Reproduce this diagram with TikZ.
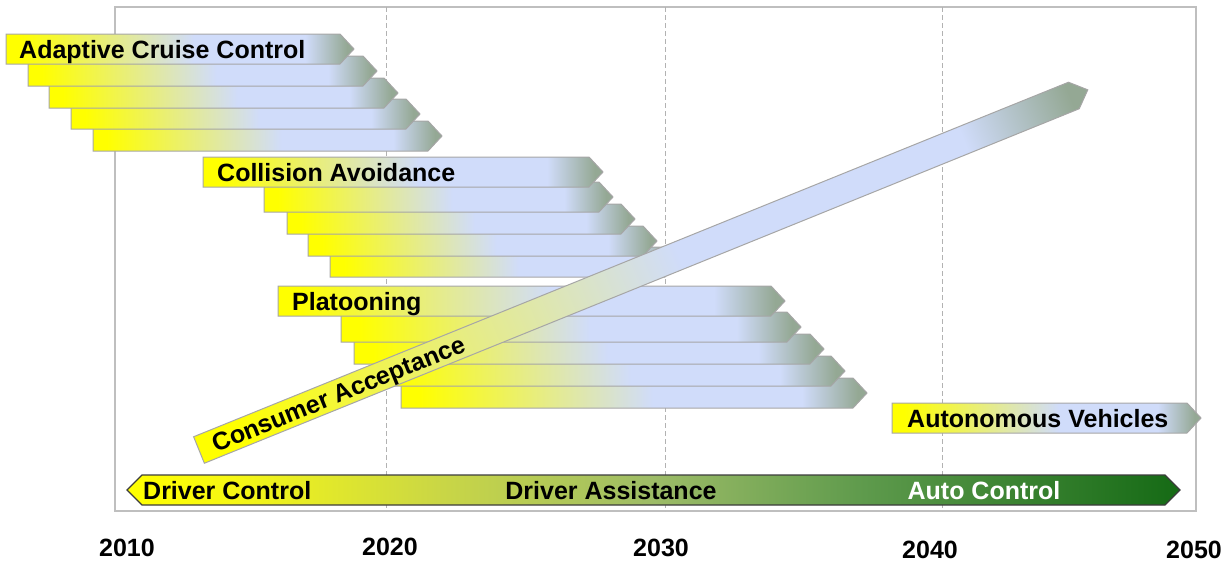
\documentclass[tikz,border=0pt]{standalone}
\usepackage{fontspec}
\setmainfont{Liberation Sans}
\definecolor{yel}{RGB}{255,255,0}
\definecolor{lblue}{RGB}{208,220,250}
\definecolor{ggreen}{RGB}{148,168,148}
\definecolor{bordergray}{RGB}{166,166,166}
\definecolor{framegray}{RGB}{191,191,191}
\definecolor{gridgray}{RGB}{178,178,178}
\definecolor{barborder}{RGB}{60,60,60}
\definecolor{ga}{RGB}{246,247,20}
\definecolor{gb}{RGB}{201,214,70}
\definecolor{gc}{RGB}{157,188,103}
\definecolor{gd}{RGB}{94,154,76}
\definecolor{ge}{RGB}{21,106,21}
\pgfdeclarehorizontalshading{barshade}{100bp}{color(0bp)=(yel); color(27bp)=(yel); color(52bp)=(lblue); color(68bp)=(lblue); color(74bp)=(ggreen); color(100bp)=(ggreen)}
\pgfdeclarehorizontalshading{ctrlshade}{100bp}{color(0bp)=(yel); color(25bp)=(yel); color(30bp)=(ga); color(40bp)=(gb); color(50bp)=(gc); color(60bp)=(gd); color(75bp)=(ge); color(100bp)=(ge)}
\tikzset{
  arrowbar/.style={shade, shading=barshade, draw=bordergray, line width=1pt, line join=miter},
  ctrlbar/.style={shade, shading=ctrlshade, draw=barborder, line width=1.2pt},
  lbl/.style={font=\fontsize{25}{28}\selectfont\bfseries, inner sep=0pt, text=black},
  yearlbl/.style={font=\fontsize{25}{28}\selectfont\bfseries, inner sep=0pt, text=black, anchor=base},
  gridline/.style={draw=gridgray, line width=1pt, dash pattern=on 5pt off 3pt},
  framebox/.style={draw=framegray, line width=1.2pt}
}
% left x, top y, tip x
\newcommand\timebar[3]{\path[arrowbar] (#1,#2) -- (#3-14,#2) -- (#3,#2+15) -- (#3-14,#2+30) -- (#1,#2+30) -- cycle;}
\begin{document}
\begin{tikzpicture}[x=1pt,y=-1pt]
\useasboundingbox (0,0) rectangle (1223,560);
% frame and grid
\path[framebox] (115,7) rectangle (1196,511);
\coordinate (g20t) at (386,7); \coordinate (g20b) at (386,511);
\coordinate (g30t) at (665,7); \coordinate (g30b) at (665,511);
\coordinate (g40t) at (942,7); \coordinate (g40b) at (942,511);
\draw[gridline] (g20t) -- (g20b);
\draw[gridline] (g30t) -- (g30b);
\draw[gridline] (g40t) -- (g40b);
% Adaptive Cruise Control
\timebar{93}{121}{442}
\timebar{71}{99}{420}
\timebar{49}{78}{398}
\timebar{28}{56}{377}
\timebar{6}{34}{354}
\node[lbl, anchor=base west] (acc) at (19,58) {Adaptive Cruise Control};
% Collision Avoidance
\timebar{330}{247}{679}
\timebar{308}{226}{657}
\timebar{287}{204}{635}
\timebar{264}{182}{613}
\timebar{203}{157}{603}
\node[lbl, anchor=base west] (ca) at (217,181) {Collision Avoidance};
% Platooning
\timebar{401}{378}{867}
\timebar{379}{356}{845}
\timebar{354}{334}{824}
\timebar{341}{312}{801}
\timebar{278}{286}{785}
\node[lbl, anchor=base west] (pl) at (292,310) {Platooning};
% Autonomous Vehicles
\timebar{892}{403}{1201}
\node[lbl, anchor=base west] (av) at (907,427) {Autonomous Vehicles};
% Consumer Acceptance diagonal
\begin{scope}[transform canvas={shift={(199,450)}, rotate=22.06}]
\path[arrowbar] (0,-14.3) -- (944,-14.3) -- (959,0) -- (944,14.3) -- (0,14.3) -- cycle;
\node[lbl, anchor=base west] (cons) at (15,9) {Consumer Acceptance};
\end{scope}
% control bar
\path[ctrlbar] (127,490) -- (142,475) -- (1165,475) -- (1180,490) -- (1165,505) -- (142,505) -- cycle;
\node[lbl, anchor=base west] (dc) at (143,499) {Driver Control};
\node[lbl, anchor=base] (da) at (611,499) {Driver Assistance};
\node[lbl, anchor=base, text=white] (ac) at (984,499) {Auto Control};
% years
\node[yearlbl] (y2010) at (127,556) {2010};
\node[yearlbl] (y2020) at (390,555) {2020};
\node[yearlbl] (y2030) at (661,556) {2030};
\node[yearlbl] (y2040) at (930,558) {2040};
\node[yearlbl] (y2050) at (1194,558) {2050};
\end{tikzpicture}
\end{document}
